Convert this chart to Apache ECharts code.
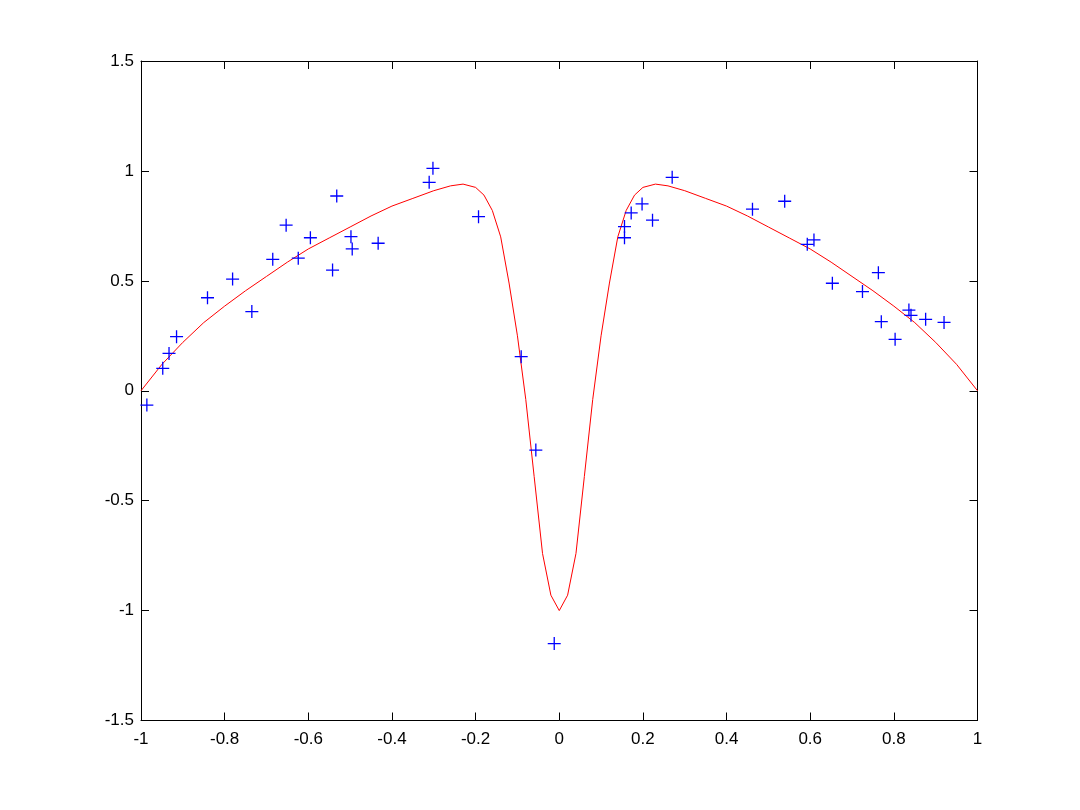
<!DOCTYPE html>
<html>
<head>
<meta charset="utf-8">
<script src="https://cdn.jsdelivr.net/npm/echarts@6/dist/echarts.min.js"></script>
<style>
html,body{margin:0;padding:0;background:#fff;}
#chart{width:1080px;height:810px;}
</style>
</head>
<body>
<div id="chart"></div>
<script>
// Sample data (blue + markers)
const pointX = [-0.986,-0.948,-0.933,-0.915,-0.841,-0.781,-0.735,-0.685,-0.653,-0.624,-0.595,-0.542,-0.532,-0.498,-0.495,-0.433,-0.311,-0.302,-0.193,
  -0.091,-0.056,-0.012,0.156,0.156,0.172,0.198,0.223,0.270,
  0.462,0.539,0.593,0.609,0.653,0.725,0.763,0.770,0.803,0.836,0.841,0.876,0.920];
const pointY = [-0.065,0.102,0.170,0.246,0.423,0.508,0.360,0.598,0.753,0.603,0.696,0.549,0.886,0.701,0.645,0.671,0.948,1.012,0.792,
  0.155,-0.270,-1.150,0.747,0.696,0.809,0.850,0.776,0.971,
  0.826,0.862,0.666,0.686,0.489,0.451,0.537,0.314,0.234,0.367,0.343,0.325,0.311];

// Fitted curve (red line)
const curveX = [-1,-0.95,-0.9,-0.85,-0.8,-0.75,-0.7,-0.65,-0.6,-0.55,-0.5,-0.45,-0.4,-0.35,-0.3,-0.26,-0.23,-0.2,-0.18,-0.16,-0.14,-0.12,-0.1,-0.08,-0.06,-0.04,-0.02,0,
  0.02,0.04,0.06,0.08,0.1,0.12,0.14,0.16,0.18,0.2,0.23,0.26,0.3,0.35,0.4,0.45,0.5,0.55,0.6,0.65,0.7,0.75,0.8,0.85,0.9,0.95,1];
const curveY = [0,0.12,0.22,0.31,0.385,0.455,0.52,0.585,0.645,0.695,0.745,0.795,0.84,0.875,0.91,0.932,0.94,0.925,0.89,0.82,0.70,0.49,0.25,-0.04,-0.39,-0.74,-0.93,-1.0,
  -0.93,-0.74,-0.39,-0.04,0.25,0.49,0.70,0.82,0.89,0.925,0.94,0.932,0.91,0.875,0.84,0.795,0.745,0.695,0.645,0.585,0.52,0.455,0.385,0.31,0.22,0.12,0];

const xTicks = {min:-1, max:1, interval:0.2};
const yTicks = {min:-1.5, max:1.5, interval:0.5};

function fmt(v){ let r = Math.round(v*10)/10; if (Math.abs(r) < 1e-9) r = 0; return String(r); }

const plusPath = 'path://M-1,-0.1L-0.1,-0.1L-0.1,-1L0.1,-1L0.1,-0.1L1,-0.1L1,0.1L0.1,0.1L0.1,1L-0.1,1L-0.1,0.1L-1,0.1Z';

const axisCommon = {
  axisLine:{show:true, onZero:false, lineStyle:{color:'#000', width:1}},
  axisTick:{show:true, inside:true, length:8, lineStyle:{color:'#000', width:1}},
  splitLine:{show:false}
};
const labelFont = {color:'#000', fontFamily:'Liberation Sans, Arial, sans-serif', fontSize:17};

const chart = echarts.init(document.getElementById('chart'), null, {renderer:'canvas'});
chart.setOption({
  backgroundColor:'#fff',
  animation:false,
  grid:{left:141, top:61, right:102.5, bottom:89.5, containLabel:false},
  xAxis:[
    Object.assign({type:'value', position:'bottom', min:xTicks.min, max:xTicks.max, interval:xTicks.interval,
      axisLabel:Object.assign({show:true, margin:10, formatter:fmt}, labelFont)}, axisCommon),
    Object.assign({type:'value', position:'top', min:xTicks.min, max:xTicks.max, interval:xTicks.interval,
      axisLabel:{show:false}}, axisCommon)
  ],
  yAxis:[
    Object.assign({type:'value', position:'left', min:yTicks.min, max:yTicks.max, interval:yTicks.interval,
      axisLabel:Object.assign({show:true, margin:7, formatter:fmt}, labelFont)}, axisCommon),
    Object.assign({type:'value', position:'right', min:yTicks.min, max:yTicks.max, interval:yTicks.interval,
      axisLabel:{show:false}}, axisCommon)
  ],
  series:[
    {
      type:'scatter',
      data: pointX.map((x,i)=>[x, pointY[i]]),
      symbol: plusPath,
      symbolSize: 13,
      itemStyle:{color:'#0000ff', opacity:1},
      z:3
    },
    {
      type:'line',
      data: curveX.map((x,i)=>[x, curveY[i]]),
      showSymbol:false,
      smooth:false,
      lineStyle:{color:'#ff0000', width:1},
      z:2
    }
  ]
});
</script>
</body>
</html>
